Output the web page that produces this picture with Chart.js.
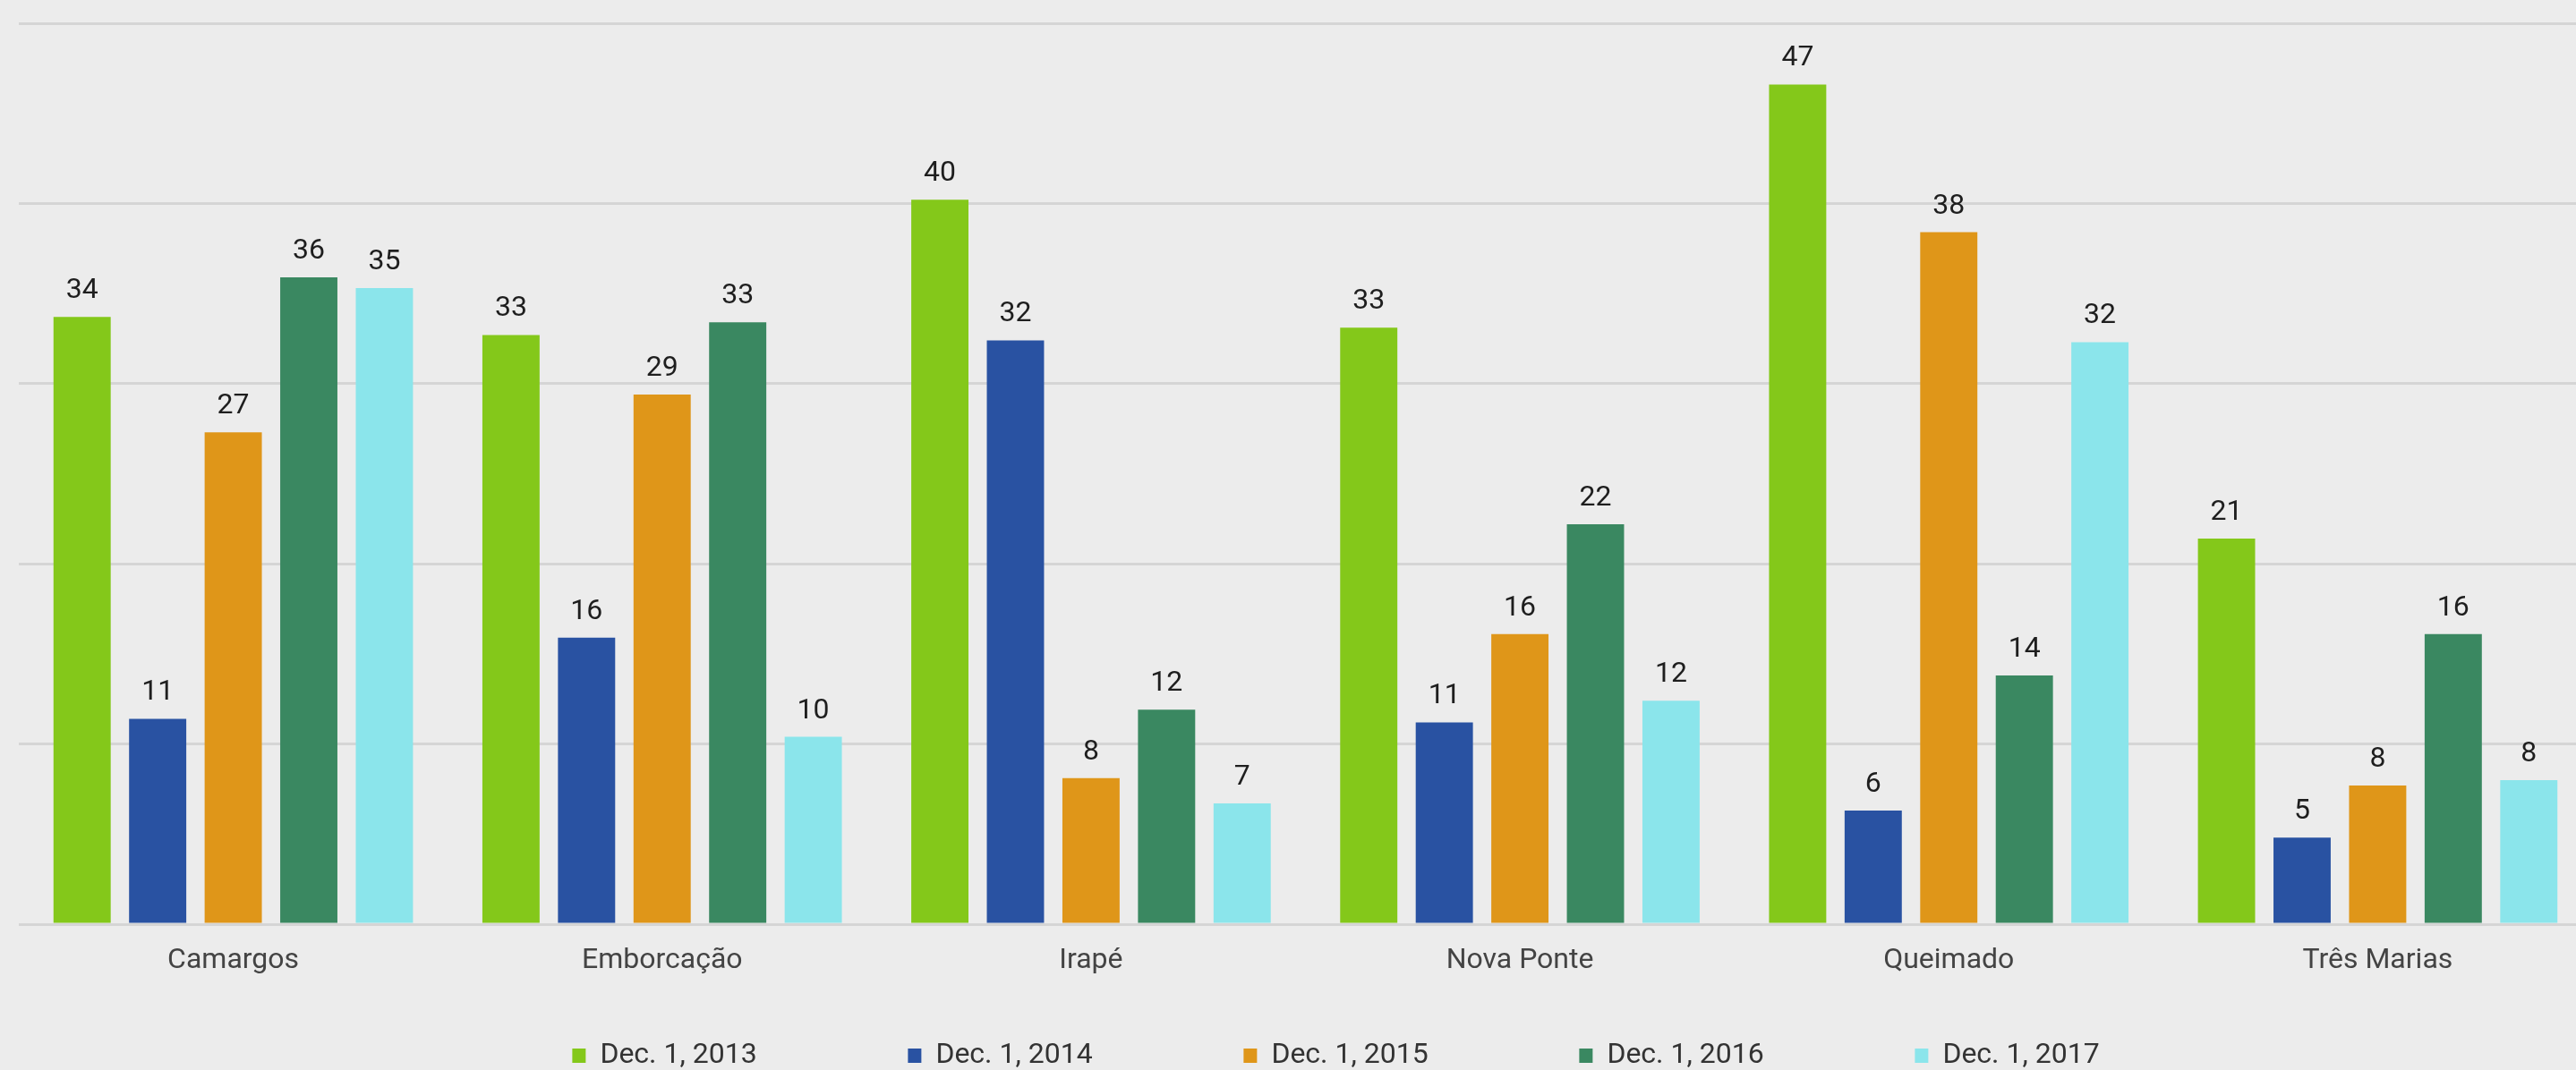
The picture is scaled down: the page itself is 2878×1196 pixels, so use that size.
<!DOCTYPE html>
<html>
<head>
<meta charset="utf-8">
<title>Reservoirs</title>
<script src="https://cdn.jsdelivr.net/npm/chart.js@4/dist/chart.umd.min.js"></script>
<style>
  html, body { margin: 0; padding: 0; background: #ececec; overflow: hidden; }
  #chartWrap { position: relative; width: 2985px; height: 1206px; }
</style>
</head>
<body>
<div id="chartWrap"><canvas id="chartReservoirs"></canvas></div>
<script>
// Data
const reservoirs = ['Camargos', 'Emborcação', 'Irapé', 'Nova Ponte', 'Queimado', 'Três Marias'];
const seriesLabels = ['Dec. 1, 2013', 'Dec. 1, 2014', 'Dec. 1, 2015', 'Dec. 1, 2016', 'Dec. 1, 2017'];
const dec2013 = [33.7, 32.7, 40.2, 33.1, 46.6, 21.4];
const dec2014 = [11.4, 15.9, 32.4, 11.2, 6.3, 4.8];
const dec2015 = [27.3, 29.4, 8.1, 16.1, 38.4, 7.7];
const dec2016 = [35.9, 33.4, 11.9, 22.2, 13.8, 16.1];
const dec2017 = [35.3, 10.4, 6.7, 12.4, 32.3, 8.0];
const yTicks = [0, 10, 20, 30, 40, 50];

const palette = ['#84c81a', '#2952a2', '#df9619', '#3a8861', '#8be5eb'];
const FONT = 'Roboto';

// Value labels above each bar
const valueLabels = {
  id: 'valueLabels',
  afterDatasetsDraw(chart) {
    const ctx = chart.ctx;
    ctx.save();
    ctx.font = `32px ${FONT}`;
    ctx.fillStyle = '#1e1e1e';
    ctx.textAlign = 'center';
    ctx.textBaseline = 'alphabetic';
    chart.data.datasets.forEach((ds, i) => {
      chart.getDatasetMeta(i).data.forEach((bar, j) => {
        ctx.fillText(Math.round(ds.data[j]), bar.x, bar.y - 21);
      });
    });
    ctx.restore();
  }
};

function initChart() {
  const series = [dec2013, dec2014, dec2015, dec2016, dec2017];
  const ctx = document.getElementById('chartReservoirs').getContext('2d');

  new Chart(ctx, {
    type: 'bar',
    data: {
      labels: reservoirs,
      datasets: series.map((values, i) => ({
        label: seriesLabels[i],
        data: values,
        backgroundColor: palette[i],
        borderWidth: 0,
        categoryPercentage: 0.881,
        barPercentage: 0.757
      }))
    },
    options: {
      responsive: true,
      maintainAspectRatio: false,
      animation: false,
      layout: { padding: { top: 26, left: 0, right: 0, bottom: 0 } },
      plugins: {
        tooltip: { enabled: false },
        legend: {
          position: 'bottom',
          labels: {
            font: { family: FONT, size: 32 },
            color: '#333333',
            boxWidth: 15,
            boxHeight: 16,
            padding: 10,
            // pad all but the last item so the entries spread out like the original
            generateLabels(chart) {
              const items = Chart.defaults.plugins.legend.labels.generateLabels(chart);
              items.forEach((item, i) => {
                if (i < items.length - 1) item.text = item.text + ' '.repeat(20);
              });
              return items;
            }
          }
        }
      },
      scales: {
        x: {
          grid: { display: false, drawTicks: false },
          border: { display: false },
          ticks: { font: { family: FONT, size: 32 }, color: '#444444', padding: 22 },
          afterFit(scale) { scale.height = 121; }
        },
        y: {
          min: yTicks[0],
          max: yTicks[yTicks.length - 1],
          afterBuildTicks(scale) { scale.ticks = yTicks.map(v => ({ value: v })); },
          ticks: { display: false },
          grid: { color: '#d5d5d5', lineWidth: 3, drawTicks: false },
          border: { display: false },
          afterFit(scale) { scale.width = 21; }
        },
        // empty axis on the right: keeps the plot edge where the original is cut off
        yRight: {
          position: 'right',
          display: true,
          ticks: { display: false },
          grid: { display: false, drawTicks: false },
          border: { display: false },
          afterFit(scale) { scale.width = 89; }
        }
      }
    },
    plugins: [valueLabels]
  });
}

document.addEventListener('DOMContentLoaded', initChart);
</script>
</body>
</html>
